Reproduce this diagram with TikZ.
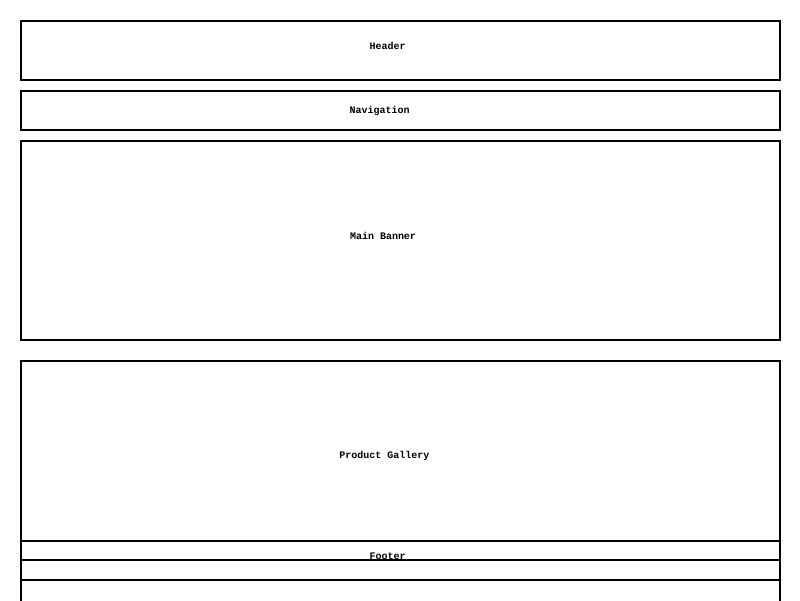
\documentclass[tikz,border=0pt]{standalone}
\usepackage{fontspec}
\newfontfamily\wirefont{Liberation Mono}
\begin{document}
\begin{tikzpicture}[x=1pt,y=-1pt,
  panel/.style={draw=black, line width=2pt, fill=white},
  caption/.style={font=\wirefont\bfseries\fontsize{10}{12}\selectfont, inner sep=0pt, text=black}]
\useasboundingbox (0,0) rectangle (800,600);
\clip (0,0) rectangle (800,600);
% page sections, top to bottom
\draw[panel] (21,21) rectangle (780,80) coordinate (headerC);
\draw[panel] (21,91) rectangle (780,130);
\draw[panel] (21,141) rectangle (780,340);
\draw[panel] (21,361) rectangle (780,541);
\draw[panel] (21,541) rectangle (780,580);
\draw[panel] (21,560) rectangle (780,580);
\draw[panel] (21,580) rectangle (780,640);
% section captions
\node[caption] (header) at (387.5,46) {Header};
\node[caption] (nav) at (379.5,111) {Navigation};
\node[caption] (banner) at (383,236) {Main Banner};
\node[caption] (gallery) at (384.5,456) {Product Gallery};
\node[caption] (footer) at (387.5,556) {Footer};
% rule across the bottom of the footer caption
\draw[black, line width=2pt] (21,560) -- (780,560);
\end{tikzpicture}
\end{document}
